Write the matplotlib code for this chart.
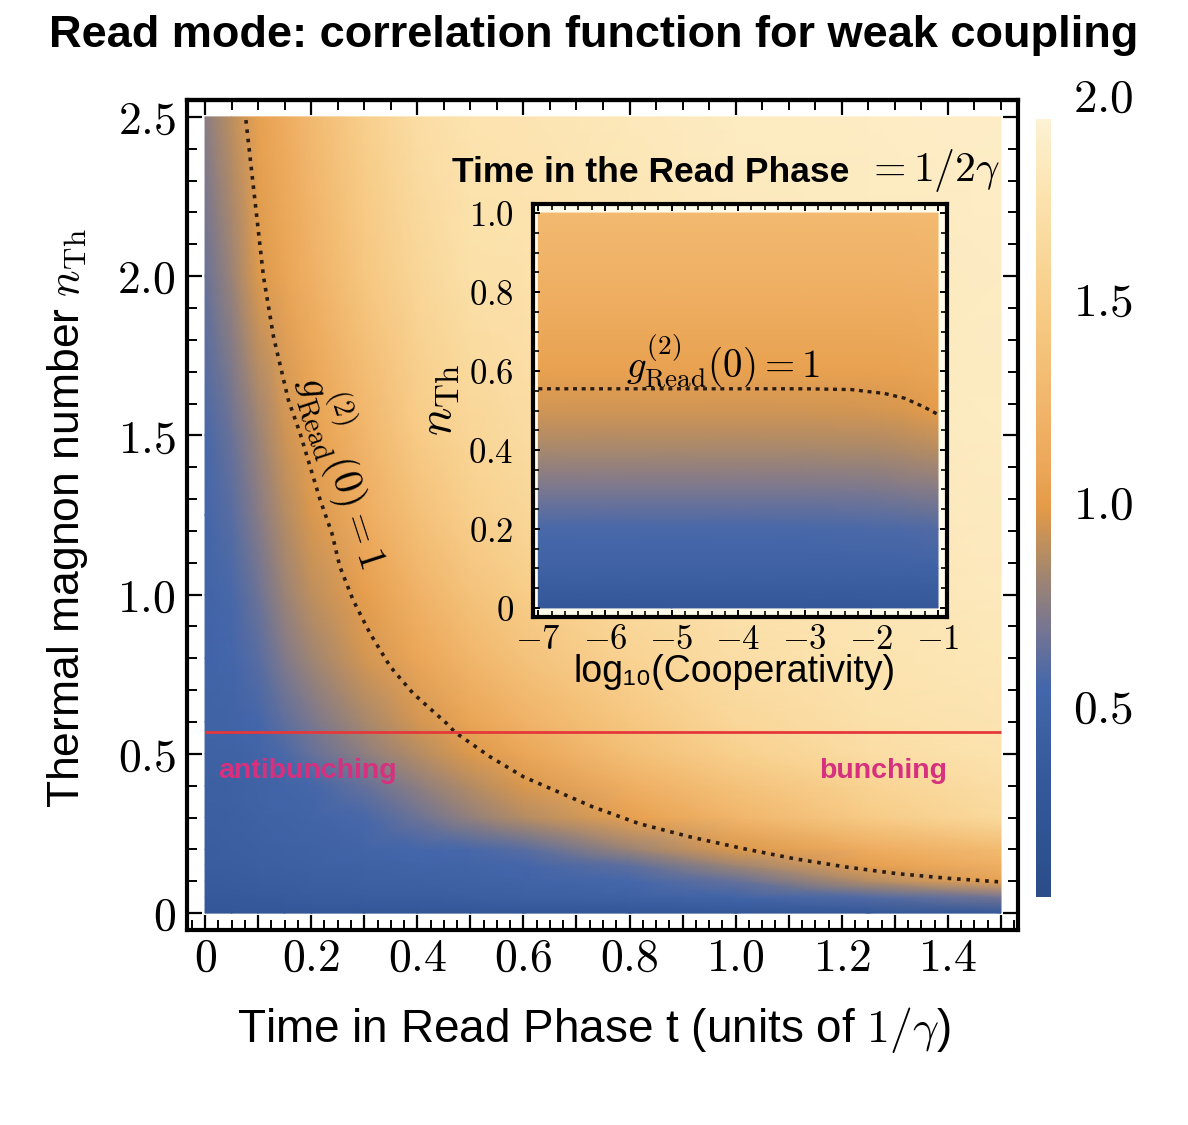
import numpy as np
import matplotlib
matplotlib.use('Agg')
import matplotlib.pyplot as plt
from matplotlib.colors import LinearSegmentedColormap
from matplotlib.ticker import MultipleLocator

plt.rcParams['mathtext.fontset'] = 'cm'
plt.rcParams['font.family'] = ['Liberation Sans', 'DejaVu Sans']

# ---- main map: g2_Read(0) ----
t_grid = [0, 0.05, 0.1, 0.15, 0.2, 0.3, 0.4, 0.5, 0.6, 0.8, 1.0, 1.25, 1.5]
n_grid = [0, 0.05, 0.1, 0.15, 0.2, 0.3, 0.4, 0.5, 0.6, 0.8, 1.0, 1.25, 1.5, 2.0, 2.5]
g2_map = [
    [0.22, 0.22, 0.22, 0.22, 0.22, 0.22, 0.22, 0.22, 0.22, 0.23, 0.24, 0.25, 0.27],
    [0.30, 0.30, 0.32, 0.33, 0.35, 0.37, 0.38, 0.40, 0.42, 0.45, 0.50, 0.58, 0.68],
    [0.34, 0.35, 0.36, 0.38, 0.40, 0.42, 0.44, 0.46, 0.48, 0.54, 0.64, 0.88, 1.06],
    [0.36, 0.38, 0.40, 0.42, 0.43, 0.46, 0.48, 0.50, 0.53, 0.62, 0.82, 1.04, 1.20],
    [0.38, 0.40, 0.42, 0.44, 0.46, 0.50, 0.52, 0.55, 0.60, 0.80, 0.98, 1.15, 1.32],
    [0.40, 0.42, 0.45, 0.47, 0.50, 0.55, 0.66, 0.78, 0.88, 1.04, 1.25, 1.50, 1.68],
    [0.42, 0.44, 0.47, 0.50, 0.53, 0.64, 0.76, 0.88, 0.97, 1.18, 1.40, 1.60, 1.74],
    [0.45, 0.46, 0.50, 0.56, 0.64, 0.76, 0.88, 0.98, 1.10, 1.36, 1.56, 1.72, 1.80],
    [0.47, 0.48, 0.53, 0.62, 0.70, 0.84, 0.96, 1.08, 1.22, 1.45, 1.65, 1.76, 1.82],
    [0.48, 0.52, 0.60, 0.72, 0.82, 0.96, 1.10, 1.26, 1.40, 1.60, 1.74, 1.81, 1.85],
    [0.50, 0.55, 0.66, 0.80, 0.90, 1.03, 1.22, 1.40, 1.52, 1.68, 1.78, 1.84, 1.87],
    [0.52, 0.60, 0.74, 0.88, 0.97, 1.15, 1.38, 1.55, 1.64, 1.74, 1.81, 1.86, 1.89],
    [0.55, 0.65, 0.80, 0.94, 1.04, 1.25, 1.50, 1.63, 1.70, 1.78, 1.84, 1.88, 1.90],
    [0.65, 0.80, 0.98, 1.08, 1.20, 1.45, 1.64, 1.75, 1.78, 1.82, 1.86, 1.89, 1.91],
    [0.75, 0.90, 1.05, 1.15, 1.30, 1.55, 1.72, 1.80, 1.82, 1.86, 1.90, 1.92, 1.93],
]

# g2 = 1 contour (dotted)
curve_t = [0.077, 0.110, 0.129, 0.157, 0.179, 0.198, 0.217, 0.239, 0.254, 0.279,
           0.311, 0.349, 0.392, 0.455, 0.471, 0.537, 0.600, 0.672, 0.730, 0.818,
           0.915, 1.013, 1.110, 1.207, 1.304, 1.402, 1.499]
curve_n = [2.49, 2.00, 1.81, 1.611, 1.507, 1.402, 1.297, 1.193, 1.088, 0.983,
           0.878, 0.774, 0.690, 0.596, 0.568, 0.491, 0.428, 0.376, 0.334, 0.281,
           0.239, 0.203, 0.171, 0.145, 0.124, 0.109, 0.098]
n_red = 0.568

# ---- inset: t = 1/2gamma ----
logc_grid = [-7, -5, -3, -2, -1.5, -1]
n_inset = [0, 0.1, 0.2, 0.3, 0.4, 0.5, 0.6, 0.8, 1.0]
g2_inset = [
    [0.25, 0.25, 0.25, 0.25, 0.25, 0.26],
    [0.45, 0.45, 0.45, 0.45, 0.46, 0.47],
    [0.55, 0.55, 0.55, 0.56, 0.57, 0.58],
    [0.70, 0.70, 0.70, 0.71, 0.72, 0.74],
    [0.84, 0.84, 0.84, 0.85, 0.86, 0.89],
    [0.95, 0.95, 0.95, 0.955, 0.97, 1.01],
    [1.05, 1.05, 1.05, 1.05, 1.06, 1.08],
    [1.18, 1.18, 1.18, 1.18, 1.19, 1.20],
    [1.30, 1.30, 1.30, 1.30, 1.30, 1.31],
]
inset_curve_c = [-7, -5, -3, -2.3, -1.8, -1.5, -1.2, -1.0]
inset_curve_n = [0.555, 0.555, 0.555, 0.553, 0.543, 0.531, 0.508, 0.49]

cmap = LinearSegmentedColormap.from_list('g2', [
    (0.0, '#2b4e8a'), (0.15, '#35599b'), (0.27, '#4567ab'), (0.35, '#7a7790'),
    (0.43, '#ad8a68'), (0.5, '#e49b48'), (0.56, '#eda95c'), (0.75, '#f7cb85'),
    (0.9, '#fce3ae'), (1.0, '#fdf2d3')])

W, H = 1188, 1125
fig = plt.figure(figsize=(W / 100, H / 100), dpi=100)


def box(x0, y0, x1, y1):
    # pixel box (top-left origin) -> figure fraction
    return [x0 / W, 1 - y1 / H, (x1 - x0) / W, (y1 - y0) / H]


ax = fig.add_axes(box(187, 100, 1018, 930))
ax.pcolormesh(t_grid, n_grid, np.array(g2_map), shading='gouraud', cmap=cmap,
              vmin=0, vmax=2, rasterized=True)
ax.plot(curve_t, curve_n, color='#2a1c12', lw=2.6, ls=(0, (1, 1.6)))
ax.hlines(n_red, t_grid[0], t_grid[-1], color='#e5383b', lw=2)
ax.set_xlim(-0.034, 1.532)
ax.set_ylim(-0.053, 2.553)
for s in ax.spines.values():
    s.set_linewidth(3)

xt = [0, 0.1, 0.2, 0.3, 0.4, 0.5, 0.6, 0.7, 0.8, 0.9, 1.0, 1.1, 1.2, 1.3, 1.4, 1.5]
xl = ['$0$', '', '$0.2$', '', '$0.4$', '', '$0.6$', '', '$0.8$', '', '$1.0$', '',
      '$1.2$', '', '$1.4$', '']
ax.set_xticks(xt, xl)
ax.xaxis.set_minor_locator(MultipleLocator(0.025))
ax.set_yticks([0, 0.5, 1.0, 1.5, 2.0, 2.5],
              ['$0$', '$0.5$', '$1.0$', '$1.5$', '$2.0$', '$2.5$'])
ax.yaxis.set_minor_locator(MultipleLocator(0.1))
ax.tick_params(which='both', direction='in', right=True, color='black')
ax.tick_params(which='major', length=11, width=1.6, labelsize=33)
ax.tick_params(which='minor', length=7, width=1.4)
ax.tick_params(axis='x', pad=5)
ax.tick_params(axis='y', pad=8)

top = ax.secondary_xaxis('top')
top.set_xticks([0, 0.2, 0.4, 0.6, 0.8, 1.0, 1.2, 1.4], [''] * 8)
top.xaxis.set_minor_locator(MultipleLocator(0.05))
top.tick_params(which='both', direction='in')
top.tick_params(which='major', length=11, width=1.6)
top.tick_params(which='minor', length=7, width=1.4)
top.spines['top'].set_linewidth(3)

ax.text(0.025, 0.446, 'antibunching', color='#d6307e', fontsize=20.5,
        fontweight='bold', ha='left', va='center')
ax.text(1.278, 0.446, 'bunching', color='#d6307e', fontsize=20.5,
        fontweight='bold', ha='center', va='center')
ax.text(0.266, 1.39, r'$g^{(2)}_{\mathrm{Read}}(0) = 1$', fontsize=29,
        rotation=-72, ha='center', va='center')

# inset
ins = fig.add_axes(box(533, 204, 947, 617))
ins.set_facecolor('#fffbea')
ins.pcolormesh(logc_grid, n_inset, np.array(g2_inset), shading='gouraud',
               cmap=cmap, vmin=0, vmax=2, rasterized=True)
ins.plot(inset_curve_c, inset_curve_n, color='#2a1c12', lw=2.4, ls=(0, (1.2, 1.4)))
ins.set_xlim(-7.08, -0.865)
ins.set_ylim(-0.023, 1.023)
for s in ins.spines.values():
    s.set_linewidth(3)
ins.set_xticks([-7, -6, -5, -4, -3, -2, -1],
               ['$-7$', '$-6$', '$-5$', '$-4$', '$-3$', '$-2$', '$-1$'])
ins.xaxis.set_minor_locator(MultipleLocator(0.2))
ins.set_yticks([0, 0.2, 0.4, 0.6, 0.8, 1.0],
               ['$0$', '$0.2$', '$0.4$', '$0.6$', '$0.8$', '$1.0$'])
ins.yaxis.set_minor_locator(MultipleLocator(0.05))
ins.tick_params(which='both', direction='in', top=True, right=True)
ins.tick_params(which='major', length=5, width=1.4, labelsize=25)
ins.tick_params(which='minor', length=4, width=1.2)
ins.tick_params(axis='y', pad=14)
ins.tick_params(axis='x', pad=4)
ins.text(-4.23, 0.625, r'$g^{(2)}_{\mathrm{Read}}(0) = 1$', fontsize=28,
         ha='center', va='center')

fig.text(452 / W, 1 - 173 / H, 'Time in the Read Phase', fontsize=25.5,
         fontweight='bold', ha='left', va='center')
fig.text(1000 / W, 1 - 170 / H, r'$= 1/2\gamma$', fontsize=30,
         ha='right', va='center')
fig.text(440 / W, 1 - 400 / H, r'$n_{\mathrm{Th}}$', fontsize=34,
         rotation=90, ha='center', va='center')
fig.text(735 / W, 1 - 672 / H, 'log\u2081\u2080(Cooperativity)', fontsize=27,
         ha='center', va='center')

# colour bar
cax = fig.add_axes(box(1036, 95, 1051, 909))
grad = np.linspace(0, 2, 256)[:, None]
cax.imshow(grad, extent=[0, 1, 0.03, 1.94], origin='lower', aspect='auto',
           cmap=cmap, vmin=0, vmax=2)
cax.set_xlim(0, 1)
cax.set_ylim(0, 2)
for s in cax.spines.values():
    s.set_visible(False)
cax.set_xticks([])
cax.yaxis.tick_right()
cax.set_yticks([0.5, 1.0, 1.5, 2.0], ['$0.5$', '$1.0$', '$1.5$', '$2.0$'])
cax.tick_params(length=0, labelsize=34, pad=16)

fig.text(594 / W, 1 - 35 / H, 'Read mode: correlation function for weak coupling',
         fontsize=32.5, fontweight='bold', ha='center', va='center')
fig.text(68 / W, 1 - 518 / H, r'Thermal magnon number $n_{\mathrm{Th}}$',
         fontsize=32, rotation=90, ha='center', va='center')
fig.text(594 / W, 1 - 1030 / H, r'Time in Read Phase t (units of $1/\gamma$)',
         fontsize=33, ha='center', va='center')

fig.savefig('out.png', dpi=100)
